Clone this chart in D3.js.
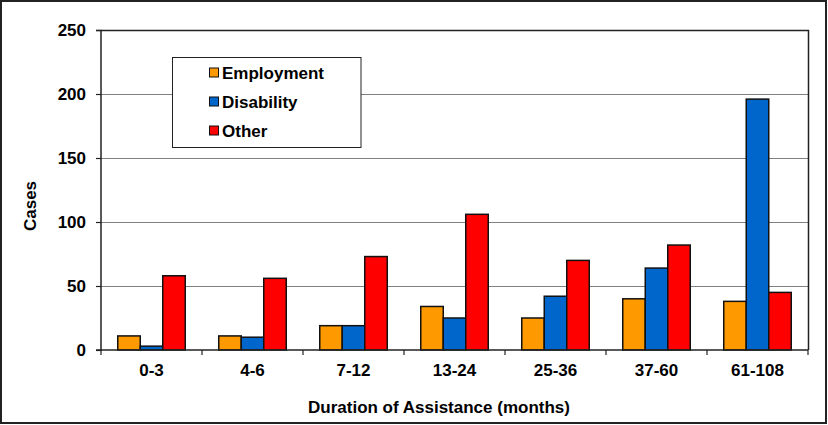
<!DOCTYPE html>
<html>
<head>
<meta charset="utf-8">
<script src="https://cdn.jsdelivr.net/npm/d3@7"></script>
<style>
  html, body { margin: 0; padding: 0; background: #fff; }
  svg { display: block; font-family: "Liberation Sans", Arial, sans-serif; font-weight: bold; }
</style>
</head>
<body>
<svg id="chart" width="828" height="425"></svg>
<script>
const categories = ["0-3", "4-6", "7-12", "13-24", "25-36", "37-60", "61-108"];
const seriesNames = ["Employment", "Disability", "Other"];
const employment = [11, 11, 19, 34, 25, 40, 38];
const disability = [3, 10, 19, 25, 42, 64, 196];
const other = [58, 56, 73, 106, 70, 82, 45];
const yTicks = [0, 50, 100, 150, 200, 250];
const colors = ["#FF9900", "#0066CC", "#FF0000"];

const seriesValues = [employment, disability, other];
const svg = d3.select("#chart");
const FS = 17;

// outer frame
svg.append("rect").attr("x", 1).attr("y", 1).attr("width", 825).attr("height", 422)
  .attr("fill", "#fff").attr("stroke", "#222").attr("stroke-width", 2);

const pLeft = 101, pRight = 808, pTop = 30, pBottom = 350;

const x = d3.scaleBand().domain(categories).range([pLeft, pRight]).paddingInner(0).paddingOuter(0);
const y = d3.scaleLinear().domain([0, 250]).range([pBottom, pTop]);
const groupInner = 67.5;
const xs = d3.scaleBand().domain(seriesNames).range([0, groupInner]).padding(0);

// gridlines
svg.append("g").selectAll("line").data(yTicks.filter(t => t > 0 && t < 250)).join("line")
  .attr("x1", pLeft).attr("x2", pRight)
  .attr("y1", d => Math.round(y(d)) + 0.5).attr("y2", d => Math.round(y(d)) + 0.5)
  .attr("stroke", "#808080").attr("stroke-width", 1.2);

// plot border (top/right)
svg.append("path")
  .attr("d", `M${pLeft},${pTop + 0.5}H${pRight + 0.5}V${pBottom}`)
  .attr("fill", "none").attr("stroke", "#222").attr("stroke-width", 1.5);

// bars
const rows = [];
categories.forEach((c, i) => seriesNames.forEach((s, j) => rows.push({ c, s, v: seriesValues[j][i], j })));
svg.append("g").selectAll("rect").data(rows).join("rect")
  .attr("x", d => x(d.c) + (x.bandwidth() - groupInner) / 2 + xs(d.s))
  .attr("width", xs.bandwidth())
  .attr("y", d => y(d.v))
  .attr("height", d => y(0) - y(d.v))
  .attr("fill", d => colors[d.j])
  .attr("stroke", "#111").attr("stroke-width", 1.5);

// y axis
const yAxis = d3.axisLeft(y).tickValues(yTicks).tickSize(5).tickPadding(10);
const gy = svg.append("g").attr("transform", `translate(${pLeft},0)`).call(yAxis);
gy.select(".domain").attr("stroke", "#222").attr("stroke-width", 1.5).attr("d", `M-5,${pTop + 0.5}H0V${pBottom}H-5`);
gy.selectAll(".tick line").attr("stroke", "#222").attr("stroke-width", 1.2);
gy.selectAll(".tick text").attr("font-size", FS).attr("font-weight", "bold").attr("fill", "#000")
  .attr("font-family", "Liberation Sans, Arial, sans-serif");

// x axis
const xAxis = d3.axisBottom(x).tickSize(0).tickPadding(14);
const gx = svg.append("g").attr("transform", `translate(0,${pBottom})`).call(xAxis);
gx.select(".domain").attr("stroke", "#222").attr("stroke-width", 1.5).attr("d", `M${pLeft},0H${pRight}`);
gx.selectAll(".tick text").attr("font-size", FS).attr("font-weight", "bold").attr("fill", "#000")
  .attr("font-family", "Liberation Sans, Arial, sans-serif");
// category separator ticks
svg.append("g").selectAll("line").data(categories.concat(["__end"])).join("line")
  .attr("x1", d => d === "__end" ? pRight : x(d)).attr("x2", d => d === "__end" ? pRight : x(d))
  .attr("y1", pBottom).attr("y2", pBottom + 5)
  .attr("stroke", "#222").attr("stroke-width", 1.2);

// axis titles
svg.append("text").attr("x", 439).attr("y", 413)
  .attr("text-anchor", "middle").attr("font-size", FS).text("Duration of Assistance (months)");
svg.append("text").attr("transform", "translate(36,206) rotate(-90)")
  .attr("text-anchor", "middle").attr("font-size", FS).text("Cases");

// legend
const lg = svg.append("g");
lg.append("rect").attr("x", 172.5).attr("y", 57.5).attr("width", 188.5).attr("height", 90)
  .attr("fill", "#fff").attr("stroke", "#222").attr("stroke-width", 1);
const ly = [73, 102, 131];
seriesNames.forEach((s, i) => {
  lg.append("rect").attr("x", 209.5).attr("y", ly[i] - 5).attr("width", 9).attr("height", 9)
    .attr("fill", colors[i]).attr("stroke", "#111").attr("stroke-width", 1);
  lg.append("text").attr("x", 222).attr("y", ly[i] + 6).attr("font-size", FS).text(s);
});
</script>
</body>
</html>
